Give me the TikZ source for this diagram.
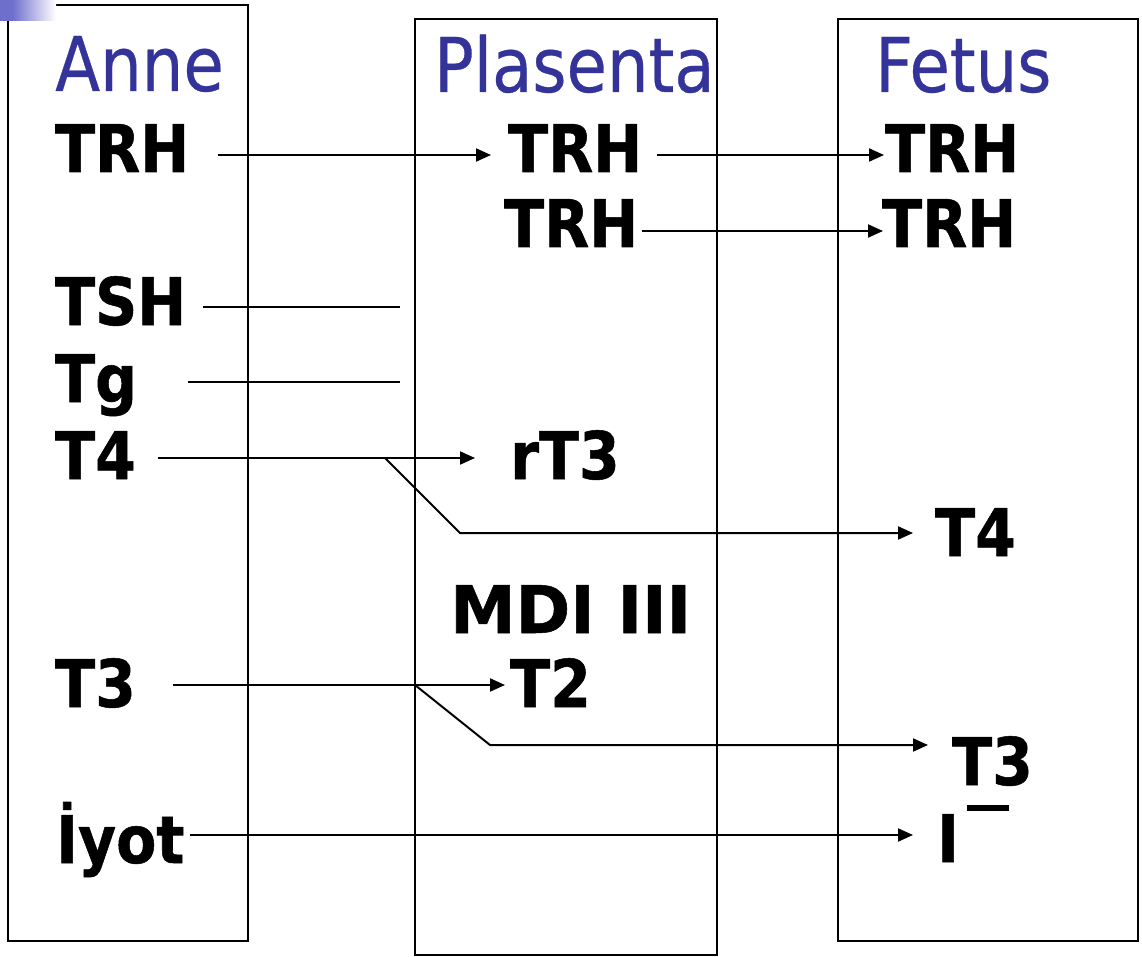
\documentclass[tikz,border=0pt]{standalone}
\usepackage{fontspec}
\setmainfont{DejaVu Sans}
\newfontfamily\headfont{DejaVu Sans}[FakeStretch=0.87, FakeBold=0.4]
\newfontfamily\labfont{DejaVu Sans}[UprightFont=* Bold, FakeStretch=0.89, FakeBold=0.8]
\newfontfamily\widefont{DejaVu Sans}[UprightFont=* Bold, FakeBold=0.8]
\usetikzlibrary{arrows.meta}
\definecolor{headblue}{RGB}{51,51,153}
\definecolor{cornerblue}{RGB}{110,110,205}

\tikzset{
  col/.style={draw=black, line width=2pt},
  head/.style={anchor=base west, inner sep=0pt, text=headblue,
    font=\headfont\fontsize{75.5}{80}\selectfont},
  lab/.style={anchor=base west, inner sep=0pt,
    font=\labfont\fontsize{65.8}{70}\selectfont},
  arr/.style={line width=2pt, -{Triangle[length=15pt,width=13pt]}},
  link/.style={line width=2pt},
}

\begin{document}
\begin{tikzpicture}[x=1pt,y=-1pt]
\useasboundingbox (0,0) rectangle (1142,957);
\fill[white] (0,0) rectangle (1142,957);

% three compartments
\draw[col] (8,5) rectangle (248,941);
\draw[col] (415,19) rectangle (717,955);
\draw[col] (838,19) rectangle (1138,941);

% corner ornament
\shade[left color=cornerblue, right color=white] (12,0) rectangle (56,21);
\fill[cornerblue] (0,0) rectangle (13,21);

% headings
\node[head] (hA) at (55,91) {Anne};
\node[head] (hP) at (434,92) {Plasenta};
\node[head] (hF) at (875,92) {Fetus};

% maternal side
\node[lab] (trhA) at (55,172) {TRH};
\node[lab] (tshA) at (55,325) {TSH};
\node[lab] (tgA)  at (55,402) {Tg};
\node[lab] (t4A)  at (55,479) {T4};
\node[lab] (t3A)  at (55,707) {T3};
\node[lab] (iyA)  at (56,863) {İyot};

% placenta
\node[lab] (trhP1) at (508,172) {TRH};
\node[lab] (trhP2) at (504,247) {TRH};
\node[lab] (rt3P)  at (510,479) {rT3};
\node[lab, font=\widefont\fontsize{65.8}{70}\selectfont] (mdi) at (450,633) {MDI III};
\node[lab] (t2P)   at (510,707) {T2};

% fetal side
\node[lab] (trhF1) at (885,172) {TRH};
\node[lab] (trhF2) at (882,247) {TRH};
\node[lab] (t4F)   at (935,556) {T4};
\node[lab] (t3F)   at (952,785) {T3};
\node[lab] (iF)    at (937,862) {I\kern8pt\rule[51pt]{42pt}{6pt}};

% connector end points
\coordinate (s1) at (218,155);  \coordinate (e1) at (491,155);
\coordinate (s2) at (657,155);  \coordinate (e2) at (884,155);
\coordinate (s3) at (642,231);  \coordinate (e3) at (883,231);
\coordinate (s4) at (203,307);  \coordinate (e4) at (400,307);
\coordinate (s5) at (188,382);  \coordinate (e5) at (400,382);
\coordinate (s6) at (158,458);  \coordinate (e6) at (475,458);
\coordinate (b6) at (385,458);  \coordinate (k6) at (460,533);
\coordinate (f6) at (913,533);
\coordinate (s7) at (173,685);  \coordinate (e7) at (505,685);
\coordinate (b7) at (415,685);  \coordinate (k7) at (490,745);
\coordinate (f7) at (928,745);
\coordinate (s8) at (190,835);  \coordinate (e8) at (913,835);

% transfers
\draw[arr] (s1) -- (e1);
\draw[arr] (s2) -- (e2);
\draw[arr] (s3) -- (e3);
\draw[link] (s4) -- (e4);
\draw[link] (s5) -- (e5);
\draw[arr] (s6) -- (e6);
\draw[arr] (b6) -- (k6) -- (f6);
\draw[arr] (s7) -- (e7);
\draw[arr] (b7) -- (k7) -- (f7);
\draw[arr] (s8) -- (e8);
\end{tikzpicture}
\end{document}
